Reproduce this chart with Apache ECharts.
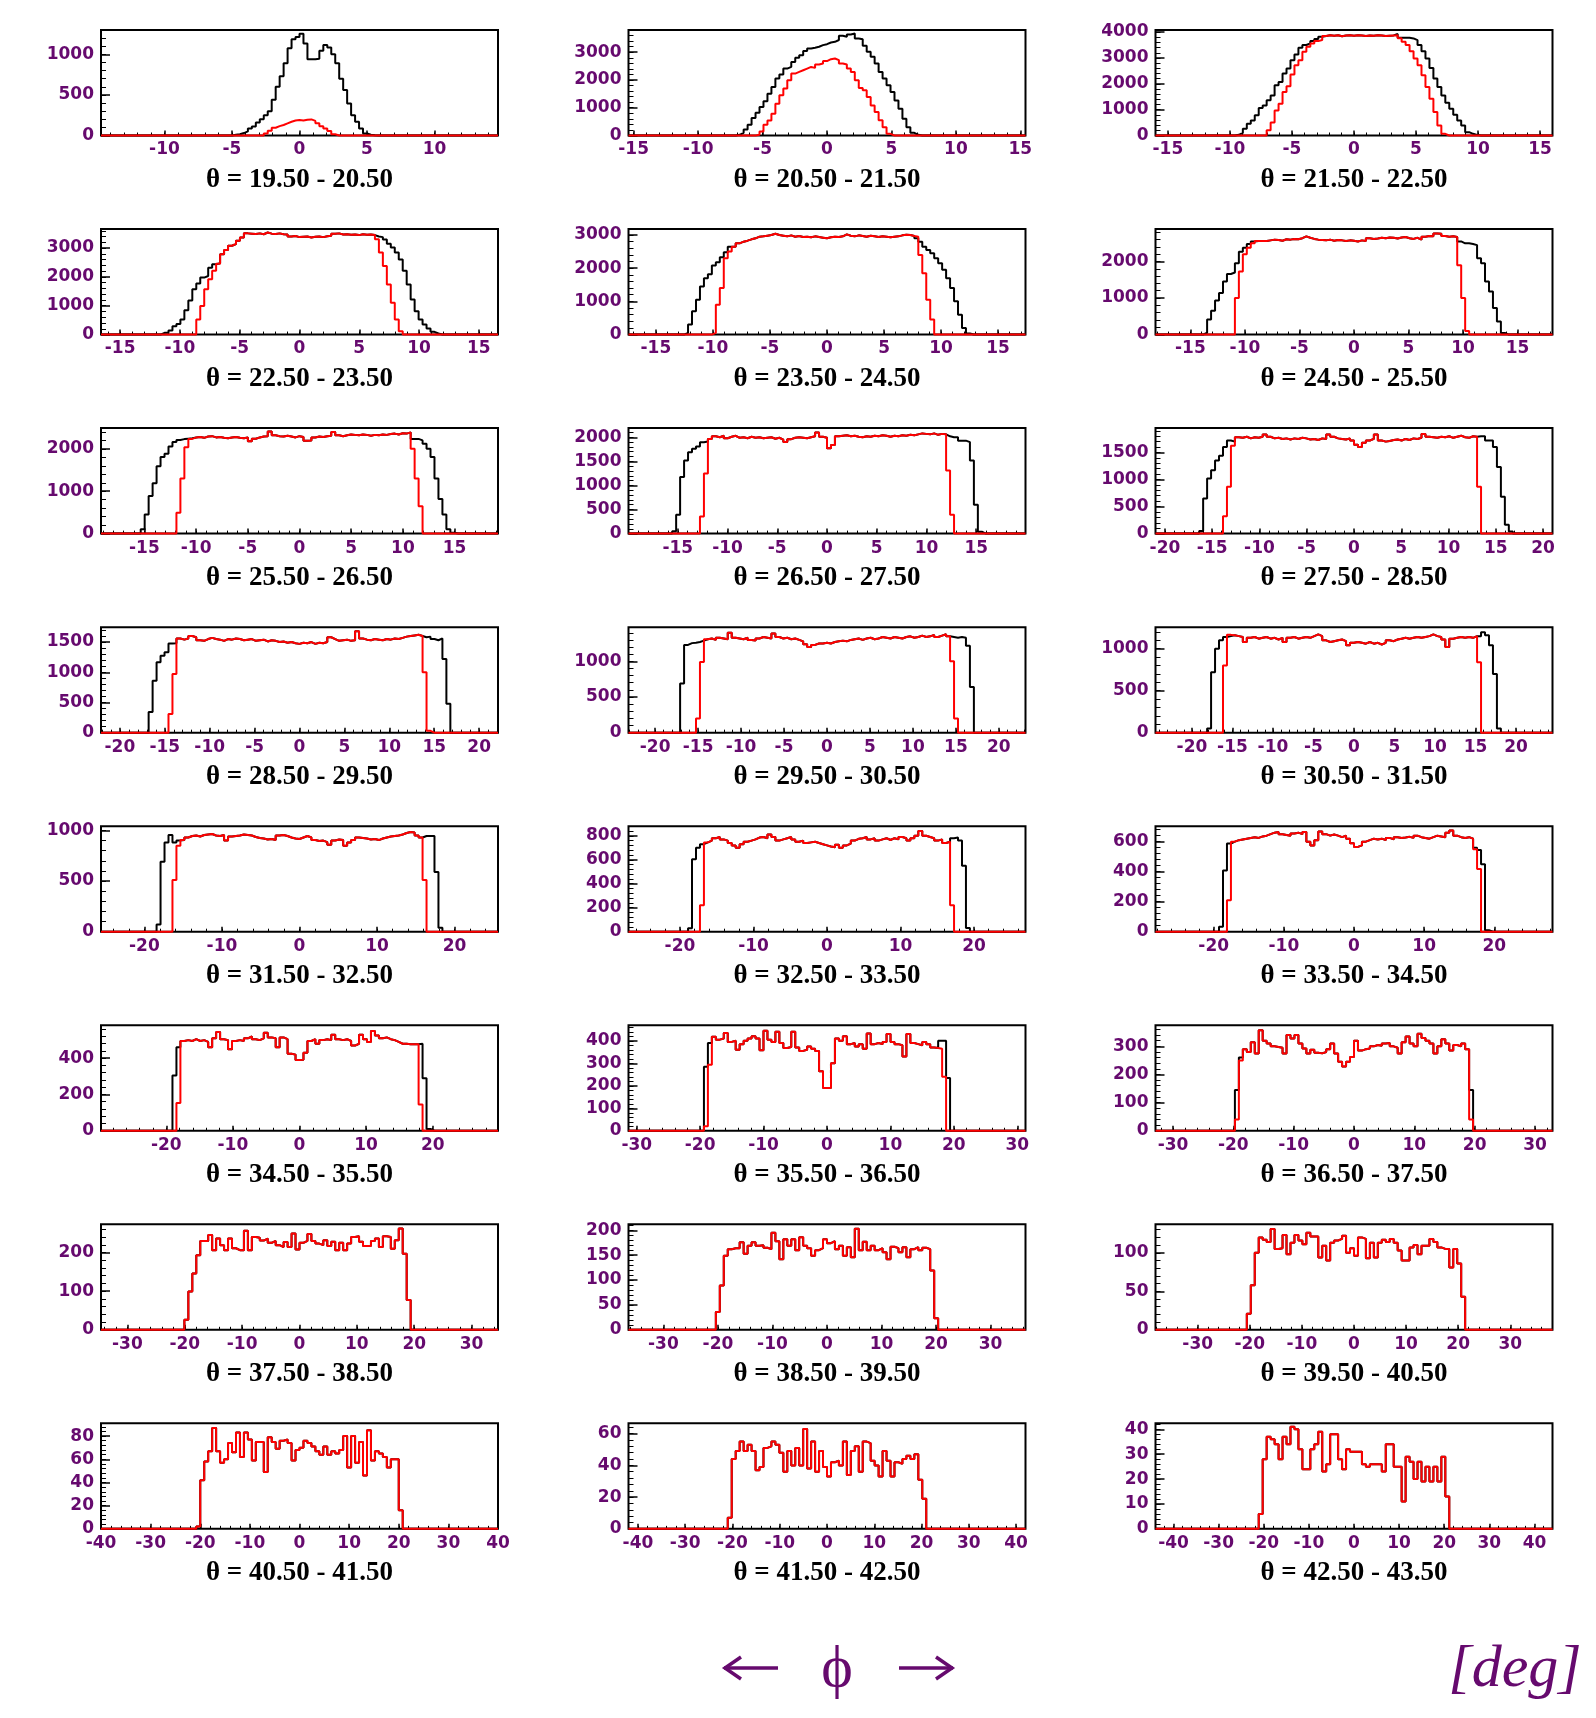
<!DOCTYPE html>
<html><head><meta charset="utf-8">
<script src="https://cdn.jsdelivr.net/npm/echarts@6/dist/echarts.min.js"></script>
<style>html,body{margin:0;padding:0;background:#fff}#c{width:1596px;height:1718px}</style>
</head><body><div id="c"></div>
<script>
// leading empty bins
const z = n => new Array(n).fill(0);

// ---- panel axis data ----
const thetaLo = [19.5,20.5,21.5,22.5,23.5,24.5,25.5,26.5,27.5,28.5,29.5,30.5,31.5,32.5,33.5,34.5,35.5,36.5,37.5,38.5,39.5,40.5,41.5,42.5];
const phiRange = [14.7,15.4,16.0,16.6,17.4,18.2,19.2,19.95,21.0,22.1,23.1,24.5,25.6,27.0,28.3,29.8,31.3,32.9,34.6,36.4,38.1,40.0,42.0,44.0];
const yMax = [1300,3800,4080,3660,3180,2890,2490,2190,1950,1747,1479,1257,1042,880,703,582,469,375,273,212,137,91,66.5,42.4];
const yStep = [500,1000,1000,1000,1000,1000,1000,500,500,500,500,500,500,200,200,200,100,100,100,50,50,20,20,10];
const xStep = [5,5,5,5,5,5,5,5,5,5,5,5,10,10,10,10,10,10,10,10,10,10,10,10];

// ---- histogram contents (100 bins each) ----
const b01 = [...z(33),8,15,30,50,85,110,160,200,250,300,440,600,730,890,1075,1185,1215,1255,1135,940,940,945,1045,1115,1085,1000,890,700,560,395,250,170,85,25,10,3];
const r01 = [...z(41),25,60,95,115,130,150,170,185,190,185,195,198,180,150,115,85,55,15];

const b02 = [...z(27),24,96,217,386,627,820,1025,1230,1507,1750,2050,2195,2410,2470,2650,2800,2895,3040,3135,3160,3195,3255,3290,3350,3375,3440,3595,3560,3640,3675,3495,3470,3230,3015,2835,2595,2290,2050,1810,1570,1265,965,605,300,96,24];
const r02 = [...z(32),24,145,385,540,780,1145,1450,1690,1990,2230,2290,2350,2410,2470,2435,2555,2595,2680,2750,2775,2715,2595,2555,2410,2290,1990,1710,1630,1385,1085,845,545,300,60];

const top03 = [3850,3880,3860,3880,3840,3870,3880,3860,3880,3870,3850,3870,3860,3880,3870,3850,3860,3870];
const b03 = [...z(20),25,100,260,450,580,780,1060,1165,1360,1550,1940,2070,2400,2590,2910,3130,3390,3500,3560,3650,3730,3820,...top03,3930,3780,3780,3780,3755,3690,3500,3260,2980,2615,2200,1880,1550,1270,1035,800,580,390,130,65,25];
const r03 = [...z(28),200,500,970,1230,1680,1900,2360,2720,2910,3240,3430,3560,3650,3690,...top03,3880,3760,3630,3500,3260,2980,2720,2330,1880,1420,905,390,65];

const top04 = [3500,3490,3510,3480,3540,3500,3490,3510,3480,3470,3400,3420,3380,3390,3400,3370,3390,3400,3380,3410,3430,3500,3510,3470,3480,3460,3470,3450,3480,3460,3470,3450];
const b04 = [...z(15),60,60,140,290,370,520,840,1185,1570,1770,1975,2030,2320,2440,2470,2790,2930,3080,3140,3250,3370,3510,...top04,3400,3380,3300,3150,3020,2850,2600,2210,1740,1220,810,520,350,210,95,35];
const r04 = [...z(24),520,990,1570,1920,2210,2460,2790,2930,3080,3140,3250,3370,3510,...top04,3310,2850,2380,1740,1100,520,115];

const top05 = [2650,2750,2800,2830,2870,2900,2950,2960,2980,3000,3040,3000,2980,2960,2990,2950,2970,2940,2950,2930,2960,2940,2920,2900,2930,2950,2940,2960,3020,2980,2960,2990,2970,2950,2980,2960,2940,2960,2950,2930,2950,2960,2990,3010,3000,2970];
const b05 = [...z(14),50,300,700,1050,1450,1700,1820,2080,2180,2330,2480,2650,...top05,2900,2800,2650,2550,2450,2300,2150,1950,1700,1400,1000,600,200,30];
const r05 = [...z(21),50,900,1400,2300,2500,...top05,2950,2400,1850,1050,450];

const top06 = [2560,2580,2600,2590,2570,2610,2600,2620,2610,2640,2690,2650,2620,2600,2590,2580,2600,2570,2590,2580,2560,2580,2570,2550,2580,2560,2640,2620,2630,2650,2640,2660,2650,2630,2660,2670,2640,2620,2650,2600,2680,2700,2690,2770,2760,2700,2680,2690,2670];
const b06 = [...z(12),50,410,650,930,1140,1450,1660,1700,1950,2270,2380,2480,2550,2560,2560,...top06,2550,2500,2500,2480,2450,2090,1950,1450,1180,730,360,45];
const r06 = [...z(20),1000,1730,2200,2380,2500,2560,2560,...top06,1900,1000,100];

const top07 = [2270,2280,2260,2290,2300,2270,2280,2260,2250,2270,2280,2260,2250,2270,2180,2240,2270,2290,2300,2410,2320,2300,2290,2310,2290,2270,2300,2280,2190,2200,2270,2290,2280,2300,2310,2400,2320,2300,2320,2340,2330,2320,2340,2330,2310,2330,2320,2340,2330,2350,2360,2340,2370,2360,2390];
const b07 = [...z(10),100,450,890,1190,1590,1810,1885,2055,2160,2210,2230,2240,2250,...top07,2235,2235,2200,2120,2000,1810,1300,815,450,100,20];
const r07 = [...z(19),490,1300,2040,2235,...top07,2000,1300,645];

const top08 = [1965,2020,2000,2030,1980,2010,2030,1990,2000,1980,2010,1990,2000,1980,1990,2000,1970,1990,1950,1900,1960,1990,2000,1990,1980,2000,2020,2100,2010,1990,1770,1840,2020,2030,2040,2020,2030,2010,2000,2020,2010,2030,2020,2040,2030,2010,2030,2020,2040,2030,2050,2040,2060,2080,2070,2060,2080,2050,2070,2060];
const b08 = [...z(11),50,390,1175,1520,1690,1760,1810,1895,1910,...top08,2020,2000,2000,1930,1930,1900,1520,600,40];
const r08 = [...z(18),355,1245,...top08,1310,390];

const top09 = [1780,1770,1790,1760,1780,1770,1790,1830,1790,1760,1770,1750,1760,1740,1760,1750,1770,1760,1740,1750,1730,1760,1750,1830,1790,1760,1750,1740,1760,1720,1640,1600,1680,1720,1750,1830,1720,1700,1710,1730,1740,1720,1750,1730,1760,1750,1770,1840,1790,1780,1770,1790,1780,1800,1770,1790,1810,1780,1770,1800,1790];
const b09 = [...z(11),50,650,1020,1170,1350,1440,1600,1720,1700,...top09,1800,1800,1720,1720,1600,1230,680,165,40];
const r09 = [...z(17),320,865,1625,...top09,865];

const top10 = [1560,1540,1560,1600,1580,1530,1520,1550,1570,1550,1540,1520,1550,1540,1560,1550,1530,1540,1550,1520,1530,1540,1510,1530,1520,1500,1510,1490,1500,1480,1470,1490,1480,1500,1470,1490,1480,1500,1580,1550,1520,1530,1540,1520,1530,1680,1560,1540,1530,1550,1540,1530,1550,1540,1560,1550,1570,1590,1600,1610,1620,1600];
const b10 = [...z(12),340,860,1165,1275,1330,1475,1480,...top10,1580,1590,1550,1530,1560,1220,480];
const r10 = [...z(17),310,970,...top10,1000,30];

const top11 = [1310,1320,1300,1330,1320,1310,1400,1330,1320,1310,1330,1300,1290,1320,1340,1330,1320,1390,1340,1320,1330,1310,1320,1300,1280,1240,1200,1230,1250,1250,1260,1250,1270,1280,1290,1280,1300,1310,1320,1300,1320,1330,1310,1320,1340,1330,1320,1340,1330,1320,1340,1350,1330,1340,1360,1340,1350,1370,1340,1360,1380,1350];
const b11 = [...z(13),690,1230,1255,1260,1270,1290,...top11,1340,1330,1340,1330,1220,640];
const r11 = [...z(17),200,990,...top11,1000,200];

const top12 = [1160,1150,1140,1080,1130,1140,1120,1130,1140,1120,1130,1110,1130,1080,1130,1140,1120,1130,1140,1130,1150,1170,1150,1100,1080,1090,1100,1110,1090,1040,1070,1080,1070,1060,1080,1060,1070,1050,1070,1100,1090,1110,1120,1130,1120,1130,1140,1130,1140,1150,1170,1150,1140,1110,1020,1120,1130,1140,1130,1140,1130,1150];
const b12 = [...z(13),50,720,1000,1100,1140,1150,...top12,1150,1195,1160,1040,700,50];
const r12 = [...z(17),800,1165,...top12,840];

const top13 = [930,945,950,940,955,960,965,950,945,955,900,940,945,950,960,955,950,935,925,920,910,915,905,950,955,945,930,920,915,930,945,930,905,895,900,885,860,900,910,905,850,880,905,930,925,920,910,915,905,920,930,940,945,950,960,975,985,980,950,930];
const b13 = [...z(14),70,690,880,955,880,900,905,...top13,945,945,945,590,40];
const r13 = [...z(18),510,850,905,...top13,510];

const top14 = [745,760,780,790,770,760,740,720,700,730,750,760,770,785,790,780,810,790,760,770,780,790,770,750,760,740,745,750,740,730,720,710,705,725,700,720,735,760,775,780,790,770,780,760,770,780,765,780,770,790,780,760,780,800,840,800,790,780,760,770,740,750];
const b14 = [...z(15),28,605,700,730,...top14,780,785,760,550,30];
const r14 = [...z(18),220,...top14,220];

const top15 = [600,610,615,620,625,630,625,635,640,650,660,665,650,645,640,655,660,650,665,600,575,610,668,650,640,648,640,630,640,620,590,565,575,600,610,620,615,620,610,625,615,630,625,628,632,625,640,630,625,620,630,640,635,630,660,675,640,630,625,630,620];
const b15 = [...z(16),33,407,587,...top15,560,545,450,10];
const r15 = [...z(18),210,...top15,550,418];

const top16 = [495,500,495,505,495,500,490,460,510,545,505,500,450,495,500,495,510,520,505,500,510,540,515,510,460,515,505,425,420,390,392,430,495,505,480,500,505,500,530,505,500,505,495,470,480,530,505,490,550,525,510,515,505,500,490,480,480,477,477,477];
const b16 = [...z(18),305,460,...top16,480,290,10];
const r16 = [...z(19),153,...top16,145];

const top17 = [418,405,410,435,395,400,360,385,400,410,420,410,358,445,405,395,440,390,368,372,440,370,355,360,375,365,355,265,190,190,300,410,400,420,385,390,375,385,365,432,385,390,385,395,430,395,385,380,330,430,390,385,380,395,385,370,368];
const b17 = [...z(19),285,390,...top17,400,400,235];
const r17 = [...z(19),20,293,...top17,365,240];

const top18 = [290,280,315,275,357,320,310,300,298,295,275,340,328,340,310,292,275,288,277,275,280,290,310,275,245,228,245,262,320,285,290,292,300,305,302,310,312,300,295,275,315,335,310,300,345,330,320,310,275,300,325,310,285,305,300,310,290];
const b18 = [...z(20),145,260,...top18,145];
const r18 = [...z(20),40,250,...top18,40];

const r19 = [...z(21),26,99,146,193,230,230,245,206,236,219,206,236,211,206,206,256,206,240,238,231,236,225,230,219,214,227,214,249,208,225,230,248,230,223,219,232,217,228,206,225,206,223,240,242,228,217,217,230,236,214,242,240,210,232,262,197,77];
const r20 = [...z(22),36,89,149,162,164,164,176,153,169,176,169,170,165,162,195,178,142,182,169,182,160,186,169,164,149,160,164,182,174,178,162,169,149,166,146,203,160,177,160,169,160,164,156,142,167,164,156,166,146,162,166,160,165,162,119,23];
const r21 = [...z(23),21,58,100,120,117,114,131,105,106,123,98,113,123,116,111,126,121,121,94,109,90,113,116,118,122,100,106,96,120,118,93,113,94,113,117,114,118,113,103,90,90,107,110,98,109,109,118,114,107,105,105,81,105,86,43];
const r22 = [...z(24),2,42,58,67,87,67,57,60,74,66,83,62,83,77,59,75,75,49,79,75,69,76,77,74,59,68,70,76,74,71,67,64,71,64,67,65,68,80,53,80,57,75,46,85,59,67,65,62,53,60,60,16];
const r23 = [...z(25),7,44,49,55,49,53,49,37,39,51,52,55,53,48,36,49,40,51,40,63,38,55,36,49,39,33,42,43,40,55,34,49,52,36,55,54,43,40,33,49,43,33,42,41,44,46,44,47,31,19];
const r24 = [...z(26),6,28,37,36,34,28,37,34,41,40,32,24,24,32,34,39,23,26,38,38,28,24,32,31,31,31,26,25,26,26,26,23,34,34,25,25,11,29,27,20,27,19,25,19,25,19,29,13];

// black (all) and red (selected) histograms per panel
const blackH = [b01,b02,b03,b04,b05,b06,b07,b08,b09,b10,b11,b12,b13,b14,b15,b16,b17,b18,r19,r20,r21,r22,r23,r24];
const redH   = [r01,r02,r03,r04,r05,r06,r07,r08,r09,r10,r11,r12,r13,r14,r15,r16,r17,r18,r19,r20,r21,r22,r23,r24];

// ---- layout / style ----
const PURPLE = '#660a6e';
const NB = 100;
const colLeft = [101, 628.5, 1155.5];
const W = 397, H = 105.5, TOP0 = 30, PITCH = 199.05;

function ticks(lo, hi, step) {
  const out = [];
  const s = Math.ceil(lo / step - 1e-9), e = Math.floor(hi / step + 1e-9);
  for (let k = s; k <= e; k++) out.push(+(k * step).toFixed(6));
  return out;
}
function histPoints(vals, R) {
  const w = 2 * R / NB, pts = [];
  for (let i = 0; i < NB; i++) pts.push([-R + i * w, vals[i] || 0]);
  pts.push([R, vals[NB - 1] || 0]);
  return pts;
}

const grid = [], xAxis = [], yAxis = [], series = [], graphic = [];
const labelStyle = {color: PURPLE, fontFamily: 'DejaVu Sans', fontWeight: 'bold', fontSize: 17};
for (let p = 0; p < 24; p++) {
  const row = Math.floor(p / 3), col = p % 3;
  const left = colLeft[col], top = TOP0 + PITCH * row;
  const R = phiRange[p];
  grid.push({left, top, width: W, height: H, show: true, borderColor: '#000', borderWidth: 2,
             backgroundColor: 'transparent', containLabel: false, outerBoundsMode: 'none'});
  const xMaj = ticks(-R, R, xStep[p]), xMin = ticks(-R, R, xStep[p] / 5);
  const yMaj = ticks(0, yMax[p], yStep[p]), yMin = ticks(0, yMax[p], yStep[p] / 5);
  const xBase = {gridIndex: p, type: 'value', min: -R, max: R, position: 'bottom',
                 axisLine: {show: false, onZero: false}, splitLine: {show: false}, minorTick: {show: false}};
  xAxis.push(Object.assign({}, xBase, {
    axisTick: {show: true, inside: true, length: 5, customValues: xMaj, lineStyle: {color: '#000', width: 1.5}},
    axisLabel: Object.assign({show: true, margin: 6, customValues: xMaj, formatter: v => String(v)}, labelStyle)
  }));
  xAxis.push(Object.assign({}, xBase, {
    axisTick: {show: true, inside: true, length: 3, customValues: xMin, lineStyle: {color: '#000', width: 1}},
    axisLabel: {show: false}
  }));
  const yBase = {gridIndex: p, type: 'value', min: 0, max: yMax[p], position: 'left', offset: 0,
                 axisLine: {show: false, onZero: false}, splitLine: {show: false}, minorTick: {show: false}};
  yAxis.push(Object.assign({}, yBase, {
    axisTick: {show: true, inside: true, length: 9, customValues: yMaj, lineStyle: {color: '#000', width: 1.5}},
    axisLabel: Object.assign({show: true, margin: 7, customValues: yMaj, formatter: v => String(v)}, labelStyle)
  }));
  yAxis.push(Object.assign({}, yBase, {
    axisTick: {show: true, inside: true, length: 5, customValues: yMin, lineStyle: {color: '#000', width: 1}},
    axisLabel: {show: false}
  }));
  const common = {type: 'line', xAxisIndex: 2 * p, yAxisIndex: 2 * p, step: 'end', symbol: 'none',
                  clip: false, silent: true, animation: false};
  series.push(Object.assign({}, common, {data: histPoints(blackH[p], R), z: 3,
                  lineStyle: {color: '#000', width: 2}}));
  series.push(Object.assign({}, common, {data: histPoints(redH[p], R), z: 4,
                  lineStyle: {color: '#ff0000', width: 2}}));
  const lo = thetaLo[p];
  graphic.push({type: 'text', x: left + W / 2, y: 180 + PITCH * row, z: 10,
    style: {text: 'θ = ' + lo.toFixed(2) + ' - ' + (lo + 1).toFixed(2), fill: '#000',
            font: 'bold 27px "Liberation Serif"', align: 'center', verticalAlign: 'middle',
            textAlign: 'center', textVerticalAlign: 'middle'}});
}
// axis title: arrows drawn as strokes, phi and unit as text
const arrowStyle = {stroke: PURPLE, lineWidth: 3.5, fill: null, lineJoin: 'miter', lineCap: 'butt'};
graphic.push({type: 'line', z: 10, shape: {x1: 724, y1: 1668, x2: 778, y2: 1668}, style: arrowStyle});
graphic.push({type: 'polyline', z: 10, shape: {points: [[741, 1657], [725, 1668], [741, 1679]]}, style: arrowStyle});
graphic.push({type: 'line', z: 10, shape: {x1: 899, y1: 1668, x2: 953, y2: 1668}, style: arrowStyle});
graphic.push({type: 'polyline', z: 10, shape: {points: [[936, 1657], [952, 1668], [936, 1679]]}, style: arrowStyle});
[['ϕ', 837, 1670, '60px "Liberation Serif"'],
 ['[deg]', 1515, 1670, 'italic 60px "Liberation Serif"']].forEach(([t, x, y, f]) => {
  graphic.push({type: 'text', x, y, z: 10,
    style: {text: t, fill: PURPLE, font: f, align: 'center', verticalAlign: 'middle',
            textAlign: 'center', textVerticalAlign: 'middle'}});
});

const chart = echarts.init(document.getElementById('c'), null, {renderer: 'canvas', width: 1596, height: 1718});
chart.setOption({backgroundColor: '#fff', animation: false, grid, xAxis, yAxis, series, graphic});
</script></body></html>
